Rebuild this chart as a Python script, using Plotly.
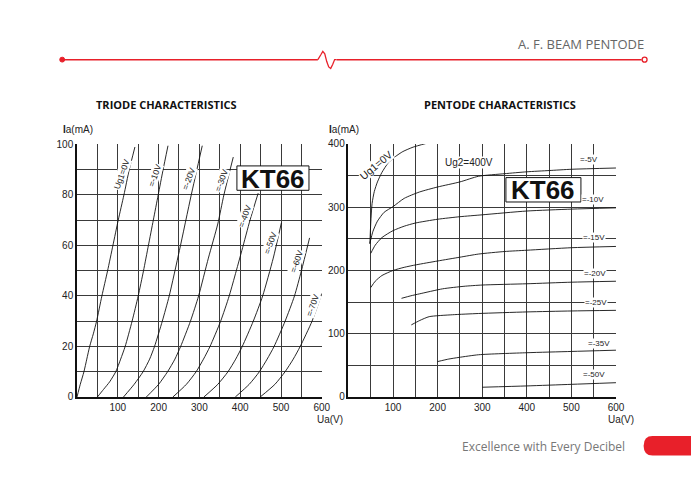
import plotly.graph_objects as go

W, H = 700, 481

# ---------------- DATA ----------------
# Triode characteristics: Ua (V) vs Ia (mA) for each grid voltage
triode_labels = ["Ug1=0V", "=-10V", "=-20V", "=-30V", "=-40V", "=-50V", "=-60V", "=-70V"]
triode_ua = [
    [0, 8, 17, 24, 31, 40, 48, 61, 75, 88, 101, 115, 128, 142],
    [50, 65, 80, 95, 107, 118, 135, 150, 163, 175, 187, 199, 211, 223],
    [114, 140, 162, 178, 190, 209, 226, 251, 280, 307],
    [170, 200, 222, 240, 254, 278, 298, 322, 345, 360, 383],
    [235, 268, 292, 310, 326, 352, 373, 404, 424, 444],
    [311, 345, 370, 389, 405, 432, 455, 481, 501],
    [388, 422, 447, 466, 483, 510, 533, 550, 570],
    [449, 485, 510, 530, 547, 576, 600],
]
triode_ia = [
    [0, 5, 10, 15, 20, 25, 30, 40, 50, 60, 70, 80, 90, 99],
    [0, 3, 6, 10, 15, 20, 30, 40, 50, 60, 70, 80, 90, 99.5],
    [0, 5, 10, 15, 20, 30, 40, 58, 80, 99.5],
    [0, 5, 10, 15, 20, 30, 40, 55, 68.5, 80, 95],
    [0, 5, 10, 15, 20, 30, 40, 58, 70, 80.7],
    [0, 5, 10, 15, 20, 30, 40, 55, 69],
    [0, 5, 10, 15, 20, 30, 40, 50, 63],
    [0, 5, 10, 15, 20, 30, 41],
]
triode_label_ua = [108, 191, 273, 353, 411, 474, 537, 576]
triode_label_ia = [88.1, 87.9, 86.4, 85.6, 71.7, 60.9, 53.6, 36.2]

# Pentode characteristics (Ug2 = 400 V)
pentode_labels = ["Ug1=0V", "=-5V", "=-10V", "=-15V", "=-20V", "=-25V", "=-35V", "=-50V"]
pentode_ua = [
    [48, 50, 53, 58, 65, 75, 89, 105, 122, 145, 175],
    [48, 55, 65, 80, 100, 125, 159, 200, 250, 292, 350, 400, 450, 500, 600],
    [50, 60, 75, 100, 125, 150, 200, 250, 300, 400, 500, 600],
    [50, 60, 75, 100, 125, 152, 200, 250, 292, 350, 400, 500, 600],
    [119, 140, 159, 211, 259, 300, 400, 500, 600],
    [141, 160, 181, 233, 292, 400, 500, 600],
    [200, 225, 248, 292, 400, 500, 600],
    [300, 400, 500, 600],
]
pentode_ia = [
    [242, 275, 306, 325, 340, 355, 370, 380, 388, 395, 401],
    [243, 262, 278, 292, 301, 314, 324, 332, 340, 349, 353, 356, 358, 360, 362],
    [227, 240, 252, 263, 270, 275, 281, 285, 288, 294, 297, 299],
    [173, 183, 192, 200, 205, 209, 215, 221, 226, 230, 232, 236, 238],
    [156, 160, 163, 171, 175, 177, 179, 181.5, 183],
    [114, 121, 127, 130, 132, 134.5, 136, 137],
    [56, 60, 62.6, 66.8, 70, 72, 74],
    [15.4, 17.5, 20, 22.6],
]
pentode_label_ua = [62, 540, 549, 551, 553, 556, 562, 551]
pentode_label_ia = [366, 375, 312, 252, 195, 150, 84, 35]

x_ticks = list(range(0, 601, 50))
triode_y_ticks = list(range(0, 101, 10))
pentode_y_ticks = list(range(0, 401, 50))

# ---------------- HELPERS ----------------
def px(x):
    return x / W


def py(y):
    return 1 - y / H


GRID = "#3a3a3a"
TXT = "#222222"
RED = "#e8202a"
FONT = "Liberation Sans, Arial, sans-serif"

fig = go.Figure()

for ua, ia in zip(triode_ua, triode_ia):
    fig.add_trace(go.Scatter(x=ua, y=ia, mode="lines", line=dict(color="#111", width=0.9, shape="spline", smoothing=0.6),
                             xaxis="x", yaxis="y", hoverinfo="skip", showlegend=False))
for ua, ia in zip(pentode_ua, pentode_ia):
    fig.add_trace(go.Scatter(x=ua, y=ia, mode="lines", line=dict(color="#111", width=0.9, shape="spline", smoothing=0.6),
                             xaxis="x2", yaxis="y2", hoverinfo="skip", showlegend=False))


def xaxis_cfg(domain, anchor):
    return dict(domain=domain, anchor=anchor, range=[0, 600], tickmode="array", tickvals=x_ticks,
                ticktext=[str(v) if v % 100 == 0 and v > 0 else "" for v in x_ticks],
                showgrid=True, gridcolor=GRID, gridwidth=1.3, zeroline=False,
                showline=True, linecolor="#111", linewidth=1.5, mirror=False, ticks="",
                tickfont=dict(family=FONT, size=10, color=TXT), fixedrange=True)


def yaxis_cfg(domain, anchor, ticks, step):
    return dict(domain=domain, anchor=anchor, range=[0, ticks[-1]], tickmode="array", tickvals=ticks,
                ticktext=[str(v) if v % step == 0 else "" for v in ticks],
                showgrid=True, gridcolor=GRID, gridwidth=1.3, zeroline=False,
                showline=True, linecolor="#111", linewidth=1.5, mirror=False, ticks="",
                tickfont=dict(family=FONT, size=10, color=TXT), fixedrange=True)


fig.update_layout(
    width=W, height=H, margin=dict(l=0, r=0, t=0, b=0),
    paper_bgcolor="white", plot_bgcolor="white",
    xaxis=xaxis_cfg([px(78), px(326)], "y"),
    yaxis=yaxis_cfg([py(401), py(142)], "x", triode_y_ticks, 20),
    xaxis2=xaxis_cfg([px(353), px(624)], "y2"),
    yaxis2=yaxis_cfg([py(401), py(141.5)], "x2", pentode_y_ticks, 100),
    showlegend=False,
)

ann = []
shapes = []


def pa(x, y, text, size, color=TXT, family=FONT, xanchor="center", **kw):
    d = dict(x=px(x), y=py(y), xref="paper", yref="paper", text=text, showarrow=False,
             xanchor=xanchor, yanchor="middle", font=dict(family=family, size=size, color=color))
    d.update(kw)
    ann.append(d)


# curve labels
for lab, ua, ia in zip(triode_labels, triode_label_ua, triode_label_ia):
    ann.append(dict(x=ua, y=ia, xref="x", yref="y", text=lab, showarrow=False, textangle=-70,
                    xanchor="center", yanchor="middle",
                    font=dict(family=FONT, size=8.5, color=TXT), bgcolor="white", borderpad=0))
for i, (lab, ua, ia) in enumerate(zip(pentode_labels, pentode_label_ua, pentode_label_ia)):
    if i == 0:
        ann.append(dict(x=ua, y=ia, xref="x2", yref="y2", text=lab, showarrow=False, textangle=-40,
                        xanchor="center", yanchor="middle",
                        font=dict(family=FONT, size=10.5, color=TXT), bgcolor="white", borderpad=0))
    else:
        ann.append(dict(x=ua, y=ia, xref="x2", yref="y2", text=lab, showarrow=False,
                        xanchor="center", yanchor="middle",
                        font=dict(family=FONT, size=8, color=TXT), bgcolor="white", borderpad=0))
ann.append(dict(x=270, y=370, xref="x2", yref="y2", text="Ug2=400V", showarrow=False,
                xanchor="center", yanchor="middle",
                font=dict(family=FONT, size=10, color=TXT), bgcolor="white", borderpad=0))

# KT66 boxes
for x0, y0, x1, y1 in [(240, 164, 313, 189), (512.5, 176, 588.5, 201)]:
    shapes.append(dict(type="rect", xref="paper", yref="paper", x0=px(x0), y0=py(y1), x1=px(x1), y1=py(y0),
                       fillcolor="white", line=dict(color="#111", width=1), layer="above"))
    pa((x0 + x1) / 2, (y0 + y1) / 2 + 0.5, "<b>KT66</b>", 26, color="#111")

# titles
pa(169, 101.5, "<b>TRIODE CHARACTERISTICS</b>", 11, color="#111", family="Open Sans, sans-serif")
pa(507, 101.5, "<b>PENTODE CHARACTERISTICS</b>", 11, color="#111", family="Open Sans, sans-serif")

# axis titles
for x0 in (62, 331):
    pa(x0, 127, "<b>I</b>a(mA)", 10, xanchor="left")
for x0 in (319, 614):
    pa(x0, 424, "Ua(V)", 10, xanchor="left")

# header and footer
pa(654, 39, "A. F. BEAM PENTODE", 13, color="#666", family="Open Sans, sans-serif", xanchor="right")
pa(551, 451.5, "Excellence with Every Decibel", 12, color="#777", family="Open Sans, sans-serif")

line_y = 55
shapes.append(dict(type="line", xref="paper", yref="paper", x0=px(63), y0=py(line_y), x1=px(322), y1=py(line_y),
                   line=dict(color=RED, width=1.5)))
shapes.append(dict(type="line", xref="paper", yref="paper", x0=px(341), y0=py(line_y), x1=px(650), y1=py(line_y),
                   line=dict(color=RED, width=1.5)))
sq = [(322, 55), (325, 50), (327, 46.5), (329, 49), (331, 57), (333, 62.5), (335, 64), (337, 60), (339, 55), (341, 55)]
path = "M " + " L ".join(f"{px(a):.5f},{py(b):.5f}" for a, b in sq)
shapes.append(dict(type="path", xref="paper", yref="paper", path=path, line=dict(color=RED, width=1.3)))
shapes.append(dict(type="circle", xref="paper", yref="paper", x0=px(60.5), y0=py(57.5), x1=px(65.5), y1=py(52.5),
                   fillcolor=RED, line=dict(color=RED, width=1)))
shapes.append(dict(type="circle", xref="paper", yref="paper", x0=px(650.5), y0=py(57.5), x1=px(655.5), y1=py(52.5),
                   fillcolor="white", line=dict(color=RED, width=1.3)))
bpath = (f"M {px(661):.5f},{py(441):.5f} L {px(700):.5f},{py(441):.5f} L {px(700):.5f},{py(461):.5f} "
         f"L {px(661):.5f},{py(461):.5f} Q {px(652):.5f},{py(461):.5f} {px(652):.5f},{py(451):.5f} "
         f"Q {px(652):.5f},{py(441):.5f} {px(661):.5f},{py(441):.5f} Z")
shapes.append(dict(type="path", xref="paper", yref="paper", path=bpath, fillcolor=RED, line=dict(color=RED, width=0)))

fig.update_layout(annotations=ann, shapes=shapes)
fig.write_html("out.html", config={"displayModeBar": False},
               post_script="document.body.style.margin='0';document.body.style.overflow='hidden';")
